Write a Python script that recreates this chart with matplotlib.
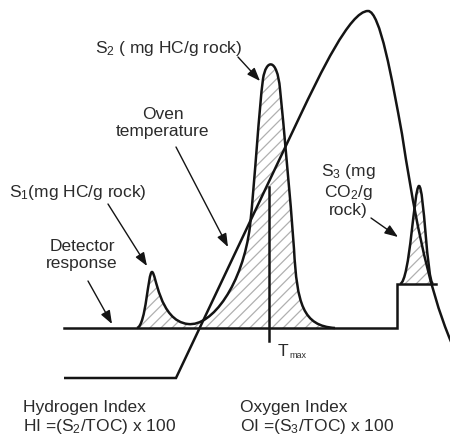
import matplotlib
matplotlib.use("Agg")
import matplotlib.pyplot as plt
from matplotlib.path import Path
from matplotlib.patches import PathPatch

plt.rcParams['font.family'] = ['Liberation Sans', 'DejaVu Sans']
plt.rcParams['mathtext.fontset'] = 'custom'
plt.rcParams['mathtext.rm'] = 'Liberation Sans'
plt.rcParams['mathtext.default'] = 'regular'
plt.rcParams['hatch.linewidth'] = 0.9

# drawing units: x to the right, y downward (450 x 435 canvas)
# detector response trace: S1 + S2 peaks on the baseline, then S3 on the raised step
s12_pts = [(137, 329),
           (146, 327), (148, 273), (152, 273),     # S1 peak
           (156, 273), (159, 322), (188, 325),     # S1 tail / trough
           (212, 328), (243, 285), (250, 227),     # S2 rise
           (255, 180), (259, 110), (263, 80),      # S2 left flank
           (266, 60), (277, 58), (280, 90),        # S2 top
           (284, 130), (290, 195), (294, 250),     # S2 right flank
           (297, 305), (303, 327), (335, 329)]     # S2 tail
s3_pts = [(400, 285),
          (410, 283), (414, 188), (419, 187),
          (424, 187), (427, 283), (433, 285)]
baseline_x = [64, 397, 397, 436]
baseline_y = [329, 329, 285, 285]

# oven temperature program
oven_pts = [(64, 379), (176, 379), (300, 117),
            (320, 75), (350, 12), (368, 12),
            (380, 12), (392, 80), (402, 135),
            (412, 200), (426, 285), (452, 345)]
oven_codes = [Path.MOVETO, Path.LINETO, Path.LINETO] + [Path.CURVE4] * 9

tmax_x = 269
tmax_top, tmax_bottom = 188, 342


def bezier(pts):
    return Path(pts, [Path.MOVETO] + [Path.CURVE4] * (len(pts) - 1))


def closed(pts):
    verts = list(pts) + [pts[0], pts[0]]
    codes = [Path.MOVETO] + [Path.CURVE4] * (len(pts) - 1) + [Path.LINETO, Path.CLOSEPOLY]
    return Path(verts, codes)


fig = plt.figure(figsize=(4.5, 4.35), dpi=100)
ax = fig.add_axes([0, 0, 1, 1])
ax.set_xlim(0, 450)
ax.set_ylim(435, 0)
ax.axis('off')

ink = '#141414'
lw = 1.8

# hatched peak areas
for pts in (s12_pts, s3_pts):
    ax.add_patch(PathPatch(closed(pts), facecolor='none', edgecolor='#b0b0b0',
                           hatch='///', lw=0))

ax.plot(baseline_x, baseline_y, color=ink, lw=lw, solid_joinstyle='miter')
for pts in (s12_pts, s3_pts):
    ax.add_patch(PathPatch(bezier(pts), facecolor='none', edgecolor=ink, lw=lw))
ax.add_patch(PathPatch(Path(oven_pts, oven_codes), facecolor='none',
                       edgecolor=ink, lw=lw))
ax.plot([tmax_x, tmax_x], [tmax_top, tmax_bottom], color=ink, lw=lw)

txt = '#2b2b2b'
fs = 12.5
arrow = dict(arrowstyle='-|>,head_length=0.8,head_width=0.3', color=ink,
             lw=1.0, shrinkA=0, shrinkB=0)

ax.text(95, 48, 'S$_2$ ( mg HC/g rock)', fontsize=fs, color=txt, va='center')
ax.annotate('', xy=(260, 82), xytext=(238, 58), arrowprops=arrow)

ax.text(163, 123, 'Oven\ntemperature', fontsize=fs, color=txt,
        ha='center', va='center', linespacing=1.15)
ax.annotate('', xy=(228, 248), xytext=(176, 148), arrowprops=arrow)

ax.text(9, 193, 'S$_1$(mg HC/g rock)', fontsize=fs, color=txt, va='center')
ax.annotate('', xy=(147, 267), xytext=(108, 205), arrowprops=arrow)

ax.text(82, 255, 'Detector\nresponse', fontsize=fs, color=txt,
        ha='center', va='center', linespacing=1.15)
ax.annotate('', xy=(112, 325), xytext=(88, 282), arrowprops=arrow)

ax.text(348, 190, 'S$_3$ (mg\nCO$_2$/g\nrock)', fontsize=fs, color=txt,
        ha='center', va='center', linespacing=1.1)
ax.annotate('', xy=(398, 238), xytext=(371, 219), arrowprops=arrow)

# T with a small "max" subscript
ax.text(278, 356, 'T', fontsize=fs, color=txt, va='baseline')
ax.text(289, 358, 'max', fontsize=6.5, color=txt, va='baseline')

ax.text(23, 418, 'Hydrogen Index\nHI =(S$_2$/TOC) x 100', fontsize=fs,
        color=txt, va='center', linespacing=1.15)
ax.text(240, 418, 'Oxygen Index\nOI =(S$_3$/TOC) x 100', fontsize=fs,
        color=txt, va='center', linespacing=1.15)

fig.savefig('out.png', dpi=100, facecolor='white')
